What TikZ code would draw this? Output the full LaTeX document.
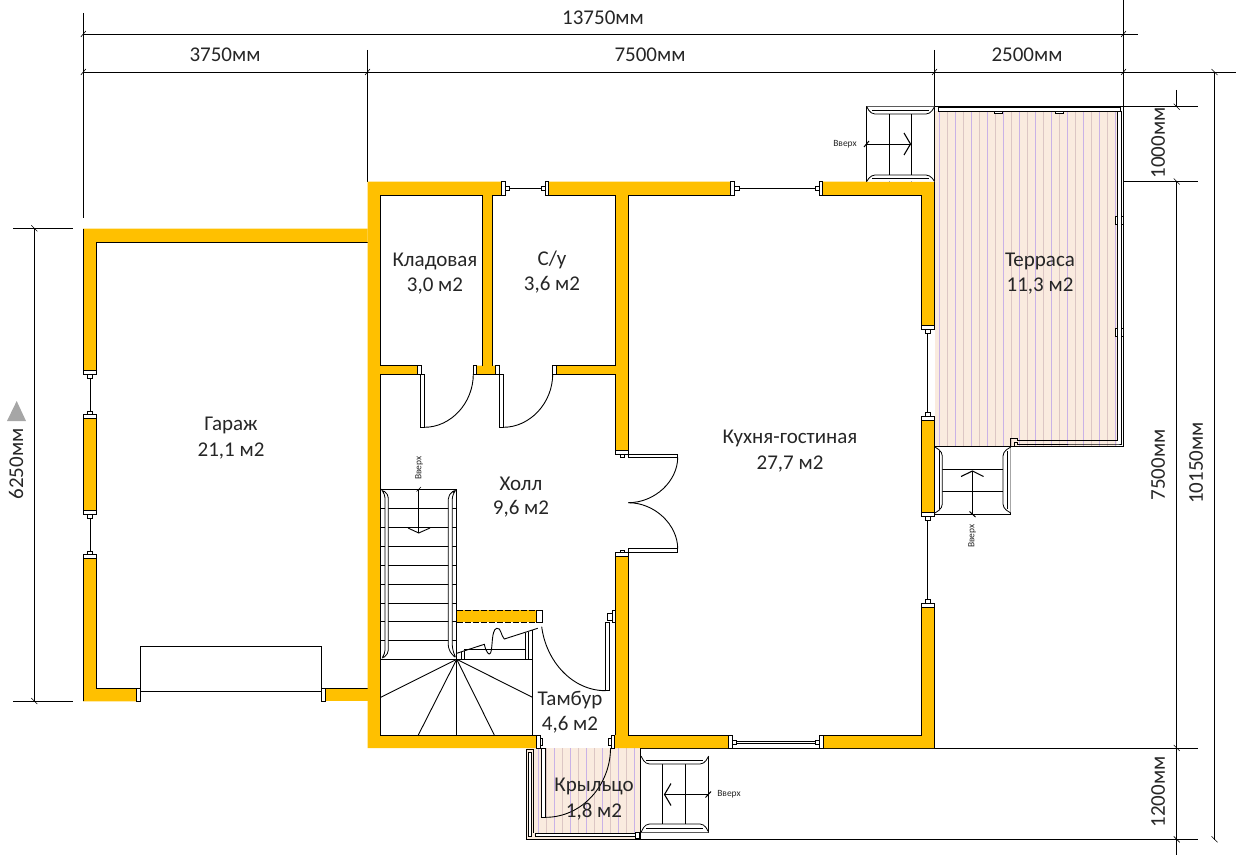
\documentclass[tikz,border=0pt]{standalone}
\usepackage{fontspec}
\setmainfont{Carlito}
\definecolor{wallc}{HTML}{FFC000}
\definecolor{deck}{HTML}{FAEBDF}
\definecolor{stripeA}{HTML}{C9B2E6}
\definecolor{stripeB}{HTML}{DCC6C4}
\definecolor{inkc}{HTML}{262626}
\newcommand{\hT}[2]{\draw[tickline] (#1-2.5,#2+3) -- (#1+2.5,#2-3);}
\newcommand{\vT}[2]{\draw[tickline] (#1-3,#2-3) -- (#1+3,#2+3);}
\newcommand{\wallP}[1]{\fill[wallc] #1 -- cycle; \draw[ln] #1 -- cycle;}
\tikzset{
 ln/.style={draw=black,line width=0.9pt,line join=miter},
 thin ln/.style={draw=black,line width=0.7pt},
 tickline/.style={draw=black,line width=0.6pt},
 dim/.style={draw=black,line width=0.9pt},
 frame/.style={draw=black,fill=white,line width=0.8pt},
 room/.style={font=\fontsize{21}{23}\selectfont,text=inkc,inner sep=0pt,anchor=center},
 dimtext/.style={font=\fontsize{21}{23}\selectfont,text=inkc,inner sep=0pt,anchor=center},
 uptext/.style={font=\fontsize{9.5}{10}\selectfont,text=inkc,inner sep=0pt,anchor=center},
}
\begin{document}
\begin{tikzpicture}[x=1pt,y=-1pt]
\useasboundingbox (0,0) rectangle (1236,856);
% decks
\fill[deck] (934.5,111) rectangle (1117,446);
\foreach \x in {939,955,...,1115} \draw[stripeA,line width=1pt] (\x,111) -- (\x,446);
\foreach \x in {947,963,...,1115} \draw[stripeB,line width=1pt] (\x,111) -- (\x,446);
\fill[deck] (527,748) rectangle (640.7,839);
\foreach \x in {538,554,...,640} \draw[stripeA,line width=1pt] (\x,748) -- (\x,834);
\foreach \x in {546,562,...,640} \draw[stripeB,line width=1pt] (\x,748) -- (\x,834);
% dimension lines
\draw[dim] (83.3,13) -- (83.3,218);
\draw[dim] (367.5,50) -- (367.5,181.5);
\draw[dim] (934.5,50) -- (934.5,181.5);
\draw[dim] (1123.5,0) -- (1123.5,446);
\draw[dim] (83.3,34) -- (1138,34);
\draw[dim] (83.3,72) -- (1236,72);
\draw[dim] (1123.5,106.7) -- (1198,106.7);
\draw[dim] (1123.5,181.5) -- (1198,181.5);
\draw[dim] (640.7,748) -- (1198,748);
\draw[dim] (640.7,839.3) -- (1198,839.3);
\draw[dim] (1176.7,90) -- (1176.7,106.7);
\draw[dim] (1176.7,181.5) -- (1176.7,855);
\draw[dim] (1214.5,72) -- (1214.5,840);
\draw[dim] (34.3,228.3) -- (34.3,701);
\draw[dim] (13,228.3) -- (73,228.3);
\draw[dim] (13,701) -- (73,701);
\hT{83.3}{34}\hT{83.3}{72}\hT{367.5}{72}\hT{934.5}{72}\hT{1123.5}{34}\hT{1123.5}{72}
\vT{1214.5}{72}\vT{1176.7}{106.7}\vT{1176.7}{181.5}\vT{1176.7}{748}\vT{1176.7}{839.3}\vT{1214.5}{839.3}
\vT{34.3}{228.3}\vT{34.3}{701}
\fill[black!35] (16.7,401) -- (26,421) -- (7,421) -- cycle;
% walls
\fill[wallc] (367.5,228.5) -- (83,228.5) -- (83,370) -- (96.5,370) -- (96.5,242) -- (367.5,242) -- cycle;
\draw[ln] (83,228.5) -- (83,370) -- (96.5,370) -- (96.5,242) -- (367.5,242);
\wallP{(83,418.7) -- (96.5,418.7) -- (96.5,510) -- (83,510)}
\fill[wallc] (83,558.3) -- (96.5,558.3) -- (96.5,688.3) -- (136.7,688.3) -- (136.7,701.3) -- (83,701.3) -- cycle;
\draw[ln] (83,701.3) -- (83,558.3) -- (96.5,558.3) -- (96.5,688.3) -- (136.7,688.3);
\fill[wallc] (325.5,688.3) rectangle (367.5,701.3);
\draw[ln] (325.5,688.3) -- (367.5,688.3);
\fill[wallc] (367.5,181.5) -- (501.5,181.5) -- (501.5,195) -- (492.7,195) -- (492.7,365.7) -- (495.5,365.7) -- (495.5,374.3) -- (476.7,374.3) -- (476.7,365.7) -- (482.7,365.7) -- (482.7,195) -- (380.5,195) -- (380.5,365.7) -- (417,365.7) -- (417,374.3) -- (380.5,374.3) -- (380.5,735) -- (536.7,735) -- (536.7,748) -- (367.5,748) -- cycle;
\draw[ln] (492.7,195) -- (492.7,365.7);
\draw[ln] (482.7,365.7) -- (482.7,195) -- (380.5,195) -- (380.5,365.7) -- (417,365.7);
\draw[ln] (417,374.3) -- (380.5,374.3) -- (380.5,735) -- (536.7,735);
\draw[ln] (476.7,374.3) -- (495.5,374.3);
\draw[ln] (492.7,195) -- (501.5,195);
\fill[wallc] (548,181.5) -- (730,181.5) -- (730,195) -- (628.3,195) -- (628.3,450) -- (615.7,450) -- (615.7,374.3) -- (556.7,374.3) -- (556.7,365.7) -- (615.7,365.7) -- (615.7,195) -- (548,195) -- cycle;
\draw[ln] (548,195) -- (615.7,195) -- (615.7,365.7) -- (556.7,365.7);
\draw[ln] (556.7,374.3) -- (615.7,374.3) -- (615.7,450);
\draw[ln] (628.3,450) -- (628.3,195) -- (730,195);
\fill[wallc] (822,181.5) -- (934.5,181.5) -- (934.5,325) -- (921.3,325) -- (921.3,195) -- (822,195) -- cycle;
\draw[ln] (822,195) -- (921.3,195) -- (921.3,325);
\draw[ln] (934.5,181.5) -- (934.5,325);
\wallP{(921.3,420.5) -- (934.5,420.5) -- (934.5,512.3) -- (921.3,512.3)}
\fill[wallc] (921.3,607) -- (934.5,607) -- (934.5,748) -- (823,748) -- (823,735) -- (921.3,735) -- cycle;
\draw[ln] (823,735) -- (921.3,735) -- (921.3,607) -- (934.5,607) -- (934.5,748);
\fill[wallc] (615.7,556.7) -- (628.3,556.7) -- (628.3,735) -- (728,735) -- (728,748) -- (614,748) -- (614,735) -- (615.7,735) -- cycle;
\draw[ln] (615.7,735) -- (615.7,556.7) -- (628.3,556.7) -- (628.3,735) -- (728,735);
% garage windows and door
\draw[ln] (90,378) -- (90,412);
\draw[ln] (90,518) -- (90,552);
\draw[frame] (83,370) rectangle (96.5,374.5);
\draw[frame] (87.7,374.5) rectangle (92.3,378);
\draw[frame] (87.7,411) rectangle (92.3,414);
\draw[frame] (83,414) rectangle (96.5,418.7);
\draw[frame] (83,510) rectangle (96.5,514.5);
\draw[frame] (87.7,514.5) rectangle (92.3,518);
\draw[frame] (87.7,551) rectangle (92.3,554.3);
\draw[frame] (83,554.3) rectangle (96.5,558.3);
\draw[frame] (136.7,688.3) rectangle (140.5,701.3);
\draw[frame] (321.5,688.3) rectangle (325.5,701.3);
\draw[ln] (140.5,691.3) -- (140.5,646) -- (321.5,646) -- (321.5,691.3) -- cycle;
% top windows
\draw[ln] (509,188.3) -- (541,188.3);
\draw[frame] (501.5,181.5) rectangle (505.5,195);
\draw[frame] (505.5,186) rectangle (509,190.5);
\draw[frame] (541,186) rectangle (545,190.5);
\draw[frame] (545,181.5) rectangle (548,195);
\draw[ln] (739,188.3) -- (818,188.3);
\draw[frame] (730,181.5) rectangle (734.5,195);
\draw[frame] (734.5,186) rectangle (739,190.5);
\draw[frame] (815,186) rectangle (819,190.5);
\draw[frame] (819,181.5) rectangle (822,195);
% east windows
\draw[ln] (927.8,333) -- (927.8,413);
\draw[frame] (921.3,325) rectangle (934.5,329);
\draw[frame] (925.7,329) rectangle (930,333);
\draw[frame] (925.7,412.7) rectangle (930,416.3);
\draw[frame] (921.3,416.3) rectangle (934.5,420.5);
\draw[ln] (927.8,520) -- (927.8,600);
\draw[frame] (921.3,512.3) rectangle (934.5,516.7);
\draw[frame] (925.7,516.7) rectangle (930,520.5);
\draw[frame] (925.7,599) rectangle (930,603);
\draw[frame] (921.3,603) rectangle (934.5,607);
% south window
\draw[frame] (736,741) rectangle (815,743.5);
\draw[frame] (728,735) rectangle (732,748);
\draw[frame] (732,740) rectangle (736,744.5);
\draw[frame] (815,740) rectangle (819.5,744.5);
\draw[frame] (819.5,735) rectangle (823,748);
% interior doors
\draw[frame] (417,365.7) rectangle (421,374);
\draw[frame] (473,365.7) rectangle (476.7,374);
\draw[frame] (420.7,374.3) rectangle (424.3,427.3);
\draw[ln] (424.3,427.3) .. controls (451,427.3) and (473.3,403) .. (473.3,374);
\draw[frame] (495.5,365.7) rectangle (499.5,374);
\draw[frame] (552.7,365.7) rectangle (556.7,374);
\draw[frame] (499.3,374.3) rectangle (503.3,427.3);
\draw[ln] (503.3,427.3) .. controls (530,427.3) and (552.7,403) .. (552.7,374);
% double door
\draw[frame] (615.7,450) rectangle (628.3,454.5);
\draw[frame] (620.5,454.5) rectangle (624,457);
\draw[frame] (615.7,552.7) rectangle (628.3,556.7);
\draw[frame] (620.5,550) rectangle (624,552.7);
\draw[frame] (628.3,454) rectangle (677.7,457.3);
\draw[frame] (628.3,548.7) rectangle (677.7,552.3);
\draw[ln] (677.7,457.3) .. controls (677.7,481) and (655,502.7) .. (628.3,502.7);
\draw[ln] (677.7,548.7) .. controls (677.7,525) and (655,502.7) .. (628.3,502.7);
% stairs
\draw[ln] (380.5,489.3) -- (456.7,489.3) -- (456.7,659.3);
\foreach \y in {508.5,527.5,546.5,565.5,584.5,603.5,621,640}
  \draw[thin ln] (380.5,\y) -- (456.7,\y);
\draw[frame,rounded corners=4pt] (381,489.3) -- (388.3,494) -- (388.3,654) -- (381,659.3) -- (385,654) -- (385,494) -- cycle;
\draw[frame,rounded corners=5pt] (456.7,489.3) -- (448.3,494) -- (448.3,650) -- (456.7,659.3) -- (452.3,650) -- (452.3,494) -- cycle;
\draw[ln] (380.5,659.3) -- (532.5,659.3) -- (532.5,735);
\foreach \a/\b in {380.7/697.3,418.3/735,456.7/735,494.3/735,532.5/697.3}
  \draw[ln] (456.7,659.3) -- (\a,\b);
\draw[ln] (525,659.3) -- (525,633);
\draw[ln] (528.5,659.3) -- (528.5,632);
\draw[ln] (532.5,659.3) -- (532.5,630);
\draw[ln] (461,659.3) -- (461,651.5);
\draw[ln] (464.3,659.3) -- (464.3,650.5);
\draw[ln] (464.3,649.5) -- (525,649.5);
\draw[ln] (456.7,653.3) -- (484.3,644.3) .. controls (486,652) and (489,656) .. (490.5,653) .. controls (493,648) and (491,630) .. (496.7,628.3) .. controls (501,627) and (501,636) .. (504.3,639) -- (537.7,628.3);
\draw[ln] (418.7,489.3) -- (418.7,533);
\draw[ln] (408,528) -- (418.7,533) -- (430,528);
\draw[tickline] (416.5,491.5) -- (421,487);
% tambur
\fill[wallc] (456.7,610) rectangle (536.7,622.3);
\draw[line width=0.9pt,dash pattern=on 6pt off 2pt] (456.7,610) -- (536.7,610);
\draw[line width=0.9pt,dash pattern=on 6pt off 2pt] (456.7,622.3) -- (536.7,622.3);
\draw[frame] (536.7,610) rectangle (542,622.3);
\draw[frame] (612,610) rectangle (615.7,622.3);
\draw[frame] (607.5,613) rectangle (612,620);
\draw[frame] (605.7,622.7) rectangle (609.3,690.7);
\draw[ln] (541.7,626.7) .. controls (546,661) and (572,690.7) .. (605.7,690.7);
% porch
\draw[frame] (536.7,735) rectangle (540.5,748);
\draw[frame] (540.5,738) rectangle (542.5,745);
\draw[frame] (608.5,738) rectangle (611,745);
\draw[frame] (611,735) rectangle (614,748);
\draw[frame] (541.7,748) rectangle (545.7,817.3);
\draw[ln] (545.7,817.3) .. controls (582,817.3) and (610.5,785) .. (610.5,748);
\draw[ln] (526,839.3) -- (526,749) -- (533.5,749) -- (533.5,833);
\draw[frame] (528.3,752.7) rectangle (531.7,836.7);
\draw[frame] (535,833.3) rectangle (635,836.7);
\draw[frame] (635,832.7) rectangle (639.5,838);
\draw[ln] (526,839.3) -- (640.7,839.3);
\draw[ln] (640.7,748) -- (640.7,839.3);
% terrace rails
\draw[ln] (934.5,106.7) -- (1123.5,106.7);
\draw[frame] (938.5,107.5) rectangle (1120,111);
\draw[frame] (994.5,111) rectangle (1002,113);
\draw[frame] (1055,111) rectangle (1063,113);
\draw[ln] (1117.5,112) -- (1117.5,440);
\draw[ln] (1121.5,111) -- (1121.5,444);
\draw[frame] (1115.5,216.7) rectangle (1117.5,224.5);
\draw[frame] (1121.5,216.7) rectangle (1123.5,224.5);
\draw[frame] (1115.5,328) rectangle (1117.5,336);
\draw[frame] (1121.5,328) rectangle (1123.5,336);
\draw[ln] (934.5,446) -- (1123.5,446);
\draw[ln] (1010.7,446) -- (1010.7,438.5) -- (1017,438.5) -- (1017,440.5) -- (1117.5,440.5);
\draw[ln] (1014,446) -- (1014,442) -- (1017,442) -- (1017,444) -- (1117.5,444) -- (1121.5,444);
% upper stairs
\draw[ln] (866.7,181.5) -- (866.7,106.7) -- (934.5,106.7);
\draw[ln] (889.3,106.7) -- (889.3,181.5);
\draw[ln] (911.7,106.7) -- (911.7,181.5);
\draw[frame,rounded corners=4pt] (866.7,106.7) -- (871,114) -- (930,114) -- (934.5,106.7);
\draw[frame] (872,110.5) -- (929,110.5);
\draw[frame,rounded corners=4pt] (866.7,181.5) -- (871,175) -- (930,175) -- (934.5,181.5);
\draw[frame] (872,178.5) -- (929,178.5);
\draw[ln] (866.7,144) -- (911,144);
\draw[ln,line width=1.1pt] (904,133) -- (910.5,144) -- (904,155);
\draw[tickline,line width=1pt] (864,147) -- (869,141);
% lower-right stairs
\draw[ln] (1010.7,446) -- (1010.7,514.5) -- (934.5,514.5);
\draw[ln] (934.5,469.5) -- (1010.7,469.5);
\draw[ln] (934.5,491) -- (1010.7,491);
\draw[frame,rounded corners=4pt] (935,447) -- (942.3,452) -- (942.3,508) -- (935,513);
\draw[frame] (939.3,451) -- (939.3,509);
\draw[frame,rounded corners=4pt] (1010.7,447) -- (1003,452) -- (1003,508) -- (1010.7,513);
\draw[frame] (1007,451) -- (1007,509);
\draw[ln] (972.5,514.5) -- (972.5,471);
\draw[ln,line width=1.1pt] (961,476.5) -- (972.5,471) -- (983.5,476.5);
\draw[tickline,line width=1pt] (969.5,511.5) -- (975.5,517);
% porch stairs
\draw[ln] (640.7,756) -- (708.7,756) -- (708.7,832.3) -- (640.7,832.3);
\draw[ln] (662.7,756) -- (662.7,832.3);
\draw[ln] (685.5,756) -- (685.5,832.3);
\draw[frame,rounded corners=4pt] (641,756) -- (645.5,764) -- (704,764) -- (708.7,756);
\draw[frame] (646,760) -- (703,760);
\draw[frame,rounded corners=4pt] (641,832.3) -- (645.5,824) -- (704,824) -- (708.7,832.3);
\draw[frame] (646,828) -- (703,828);
\draw[ln] (708.7,794.5) -- (664.5,794.5);
\draw[ln,line width=1.1pt] (671,783.5) -- (664.5,794.5) -- (671,805.5);
\draw[tickline,line width=1pt] (705.5,797.5) -- (711,791.5);
% room labels
\node[room] (garage1) at (231,425.5) {Гараж};
\node[room] (garage2) at (231,451.5) {21,1 м2};
\node[room] (store1) at (435,261) {Кладовая};
\node[room] (store2) at (435,286) {3,0 м2};
\node[room] (wc1) at (552,260) {С/у};
\node[room] (wc2) at (552,285) {3,6 м2};
\node[room] (hall1) at (521,484) {Холл};
\node[room] (hall2) at (521,509) {9,6 м2};
\node[room] (kitchen1) at (790,438) {Кухня-гостиная};
\node[room] (kitchen2) at (790,464) {27,7 м2};
\node[room] (terrace1) at (1040,261) {Терраса};
\node[room] (terrace2) at (1040,286) {11,3 м2};
\node[room] (tambur1) at (570,700) {Тамбур};
\node[room] (tambur2) at (570,725) {4,6 м2};
\node[room] (porch1) at (594,786) {Крыльцо};
\node[room] (porch2) at (594,812) {1,8 м2};
% dimension labels
\node[dimtext] (d1) at (603,18) {13750мм};
\node[dimtext] (d2) at (225,55) {3750мм};
\node[dimtext] (d3) at (650,55) {7500мм};
\node[dimtext] (d4) at (1027,55) {2500мм};
\node[dimtext,rotate=90] (d5) at (1158,143) {1000мм};
\node[dimtext,rotate=90] (d6) at (1158,465) {7500мм};
\node[dimtext,rotate=90] (d7) at (1196,463) {10150мм};
\node[dimtext,rotate=90] (d8) at (1158,792) {1200мм};
\node[dimtext,rotate=90] (d9) at (16,464) {6250мм};
% up labels
\node[uptext] (u1) at (845,144) {Вверх};
\node[uptext,rotate=90] (u2) at (972,536) {Вверх};
\node[uptext] (u3) at (729,794) {Вверх};
\node[uptext,rotate=90] (u4) at (419,468) {Вверх};
\end{tikzpicture}
\end{document}
